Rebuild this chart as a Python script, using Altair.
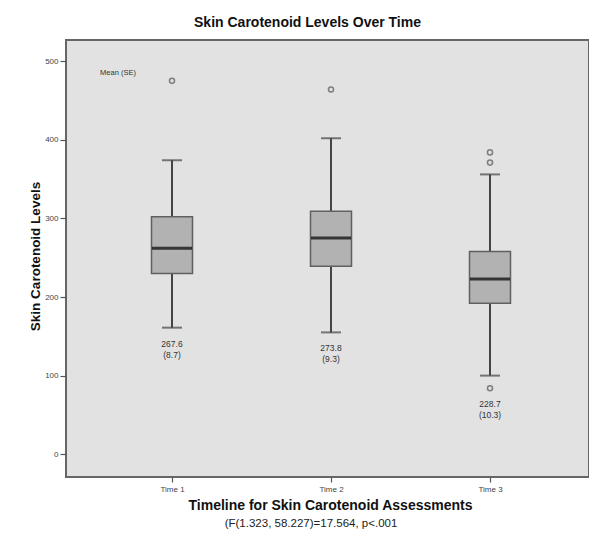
import altair as alt
import pandas as pd

# ---- data ----
times = ["Time 1", "Time 2", "Time 3"]
whisk_lo = [161, 155, 100]
q1 = [230, 239, 192]
median = [262, 275, 223]
q3 = [302, 309, 258]
whisk_hi = [374, 402, 356]
means = [267.6, 273.8, 228.7]
ses = ["8.7", "9.3", "10.3"]
out_time = ["Time 1", "Time 2", "Time 3", "Time 3", "Time 3"]
out_val = [475, 464, 384, 371, 84]
y_ticks = [0, 100, 200, 300, 400, 500]

outliers = pd.DataFrame({"time": out_time, "val": out_val})
low_point = []
for t, lo in zip(times, whisk_lo):
    below = [v for tt, v in zip(out_time, out_val) if tt == t and v < lo]
    low_point.append(min([lo] + below))

box = pd.DataFrame({
    "time": times, "lo": whisk_lo, "q1": q1, "med": median, "q3": q3,
    "hi": whisk_hi, "low_point": low_point,
    "mean_txt": [f"{m:.1f}" for m in means],
    "se_txt": [f"({s})" for s in ses],
})

W, H = 523, 437
GRAY = "#555555"

x_enc = alt.X("time:N",
              scale=alt.Scale(type="point", domain=times, range=[106, 424], padding=0),
              axis=alt.Axis(title="Timeline for Skin Carotenoid Assessments",
                            labelAngle=0, labelFontSize=8, labelColor="#444",
                            labelFont="Liberation Sans", labelPadding=3,
                            tickSize=5, tickColor=GRAY, tickWidth=1.2,
                            domain=False,
                            titleFont="Liberation Sans", titleFontSize=14,
                            titleFontWeight="bold", titleColor="#111",
                            titleX=264, titleY=28, titleBaseline="middle"))

y_scale = alt.Scale(domain=[-29, 527], nice=False, zero=False)
y_axis = alt.Axis(title="Skin Carotenoid Levels", values=y_ticks, grid=False,
                  domain=False, labelFontSize=8, labelColor="#444",
                  labelFont="Liberation Sans", labelPadding=2,
                  tickSize=6, tickColor=GRAY, tickWidth=1.2,
                  titleFont="Liberation Sans", titleFontSize=13.5,
                  titleFontWeight="bold", titleColor="#111",
                  titleX=-31, titleY=216, titleAngle=270,
                  titleAlign="center", titleBaseline="middle")


def Y(field):
    return alt.Y(f"{field}:Q", scale=y_scale, axis=y_axis)


base = alt.Chart(box)

whiskers = base.mark_rule(color="#444", strokeWidth=2).encode(
    x=x_enc, y=Y("lo"), y2="hi:Q")
cap_lo = base.mark_tick(color="#444", size=20, thickness=2).encode(x=x_enc, y=Y("lo"))
cap_hi = base.mark_tick(color="#444", size=20, thickness=2).encode(x=x_enc, y=Y("hi"))
boxes = base.mark_bar(size=41, color="#b2b2b2", stroke="#606060",
                      strokeWidth=1.5).encode(x=x_enc, y=Y("q1"), y2="q3:Q")
meds = base.mark_tick(color="#000", size=40, thickness=3).encode(x=x_enc, y=Y("med"))

outs = alt.Chart(outliers).mark_point(shape="circle", filled=False, size=26,
                                      color="#555", strokeWidth=1.5).encode(
    x=x_enc, y=Y("val"))

lab1 = base.mark_text(dy=16, fontSize=8.5, color="#333",
                      font="Liberation Sans").encode(
    x=x_enc, y=Y("low_point"), text="mean_txt:N")
lab2 = base.mark_text(dy=27, fontSize=8.5, color="#333",
                      font="Liberation Sans").encode(
    x=x_enc, y=Y("low_point"), text="se_txt:N")

legend_txt = alt.Chart(pd.DataFrame({"t": ["Mean (SE)"]})).mark_text(
    fontSize=7.5, color="#333", font="Liberation Sans").encode(
    x=alt.value(52), y=alt.value(33), text="t:N")

f_txt = alt.Chart(pd.DataFrame({"t": ["(F(1.323, 58.227)=17.564, p<.001"]})).mark_text(
    fontSize=11.5, color="#222", font="Liberation Sans").encode(
    x=alt.value(245), y=alt.value(484), text="t:N")

chart = alt.layer(whiskers, cap_lo, cap_hi, boxes, meds, outs, lab1, lab2,
                  legend_txt, f_txt).properties(
    width=W, height=H, background="white",
    title=alt.TitleParams("Skin Carotenoid Levels Over Time",
                          font="Liberation Sans", fontSize=14,
                          fontWeight="bold", color="#111", dx=-20, offset=10),
    autosize=alt.AutoSizeParams(type="none"),
    padding={"left": 58, "top": 32, "right": 0, "bottom": 52},
).configure_view(
    fill="#e2e2e2", stroke="#666666", strokeWidth=2
)

chart.save("out.html", embed_options={"renderer": "svg", "actions": False})
